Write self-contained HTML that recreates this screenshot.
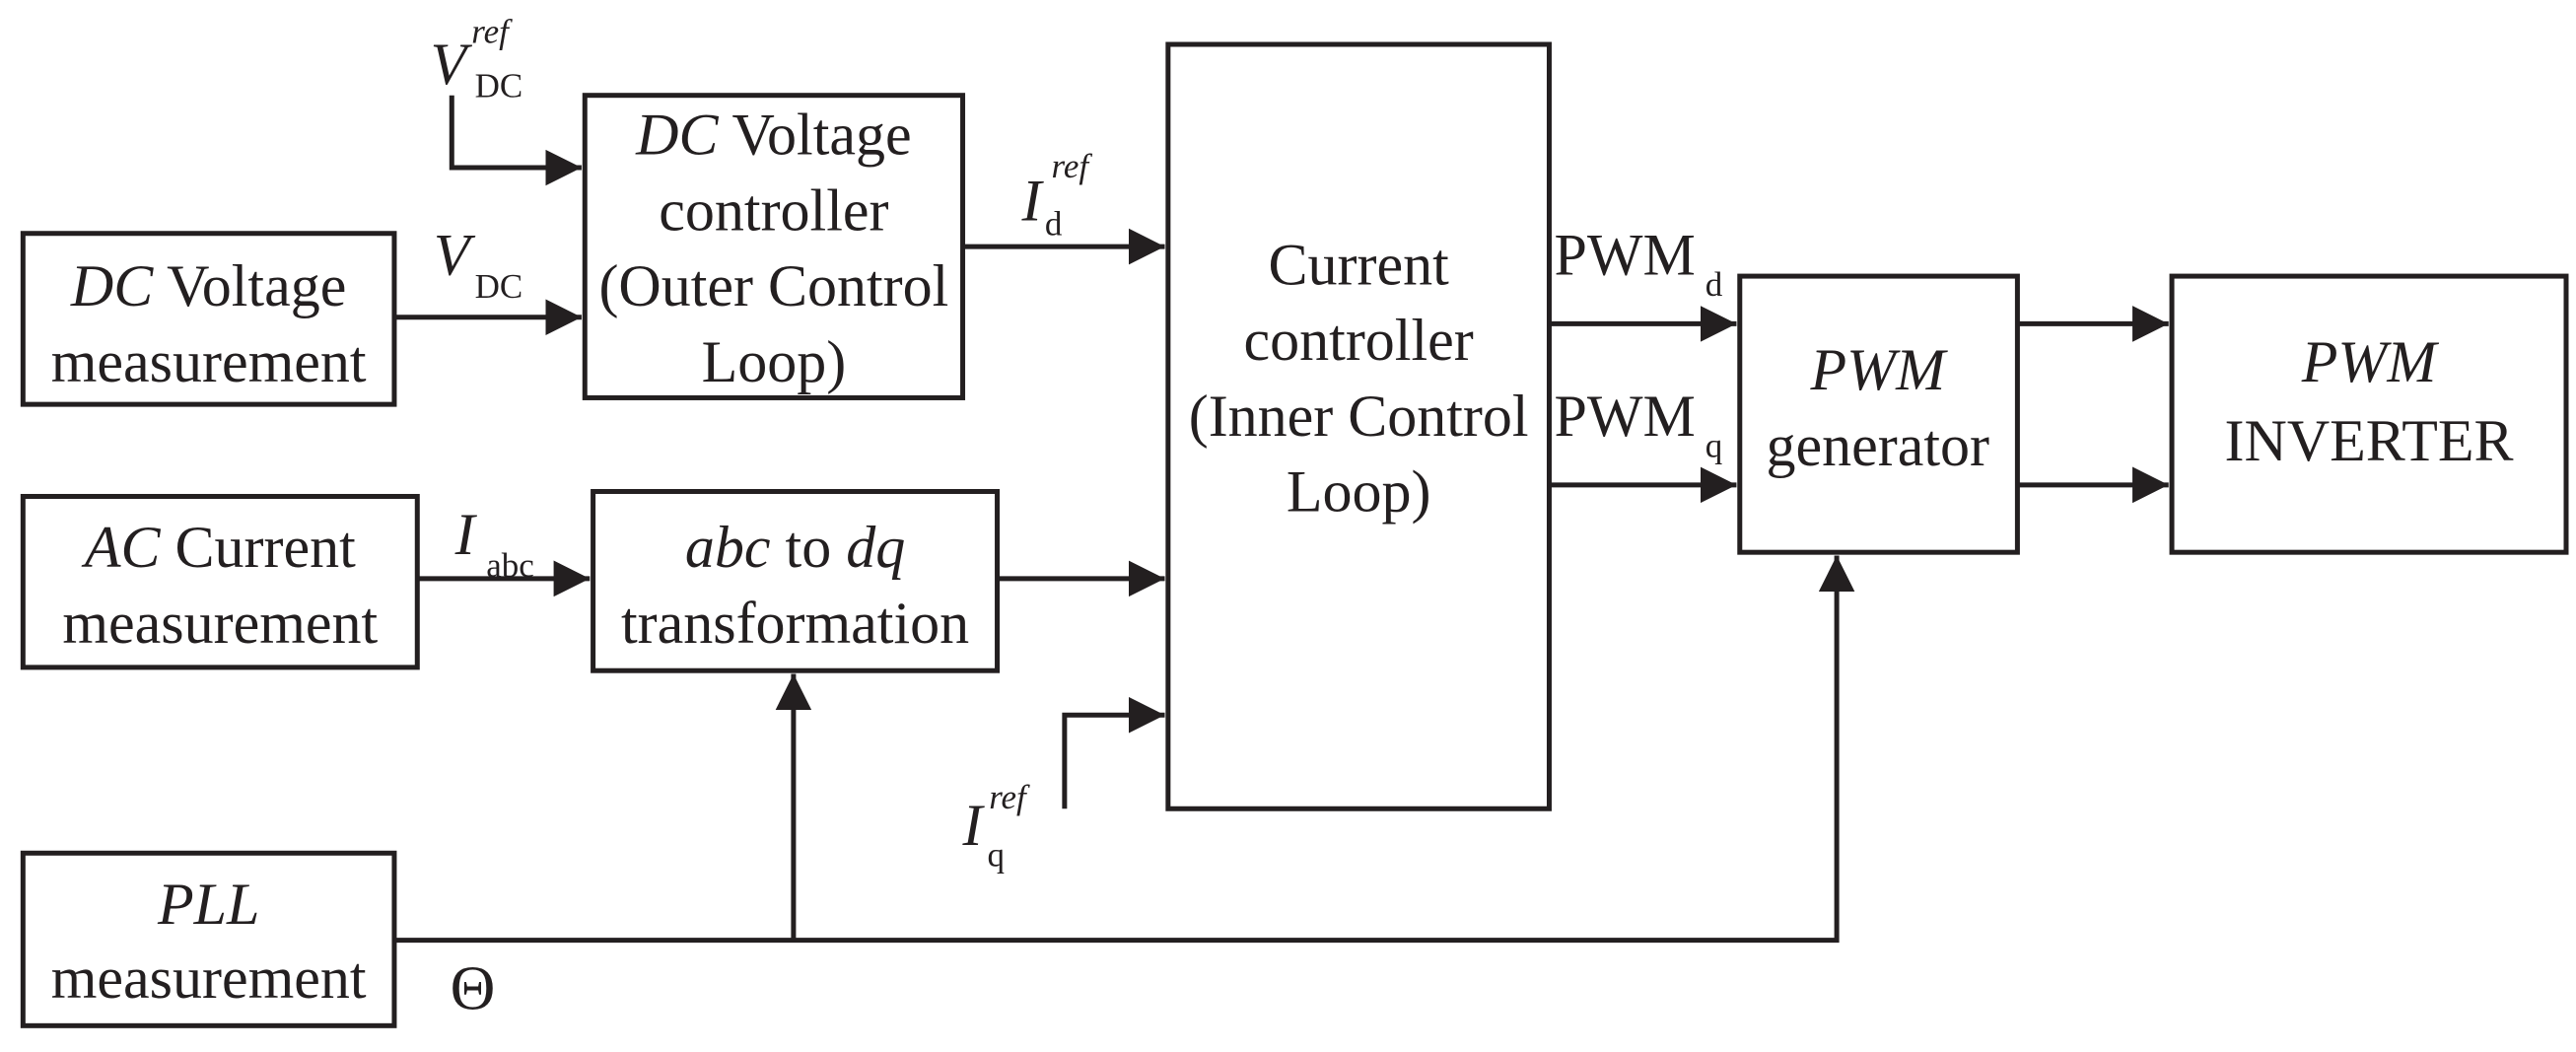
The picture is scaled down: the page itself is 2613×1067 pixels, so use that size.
<!DOCTYPE html>
<html><head><meta charset="utf-8"><style>
html,body{margin:0;padding:0;background:#fff;}
svg{display:block;}
text{font-family:"Liberation Serif",serif;fill:#231f20;}
</style></head><body>
<svg width="2613" height="1067" viewBox="0 0 1568 640" preserveAspectRatio="none" xmlns="http://www.w3.org/2000/svg">
<defs><marker id="b" viewBox="0 0 10 10" refX="10" refY="5" markerWidth="22" markerHeight="22" markerUnits="userSpaceOnUse" orient="auto"><path d="M0,0L10,5L0,10z" fill="#231f20"/></marker></defs>
<g fill="none" stroke="#231f20" stroke-width="3">
<rect x="14" y="142" width="226" height="104"/>
<rect x="356" y="58" width="230" height="184"/>
<rect x="711" y="27" width="232" height="465"/>
<rect x="1059" y="168" width="169" height="168"/>
<rect x="1322" y="168" width="240" height="168"/>
<rect x="14" y="302" width="240" height="104"/>
<rect x="361" y="299" width="246" height="109"/>
<rect x="14" y="519" width="226" height="105"/>
<path d="M275 58V102H354" marker-end="url(#b)"/>
<path d="M240 193H354" marker-end="url(#b)"/>
<path d="M586 150H709" marker-end="url(#b)"/>
<path d="M943 197H1057" marker-end="url(#b)"/>
<path d="M943 295H1057" marker-end="url(#b)"/>
<path d="M1228 197H1320" marker-end="url(#b)"/>
<path d="M1228 295H1320" marker-end="url(#b)"/>
<path d="M254 352H359" marker-end="url(#b)"/>
<path d="M607 352H709" marker-end="url(#b)"/>
<path d="M648 492V435H709" marker-end="url(#b)"/>
<path d="M240 572H1118V338" marker-end="url(#b)"/>
<path d="M483 572V410" marker-end="url(#b)"/>
</g>
<g font-size="36" text-anchor="middle">
<text x="127" y="186"><tspan font-style="italic">DC</tspan> Voltage</text>
<text x="127" y="232">measurement</text>
<text x="471" y="94"><tspan font-style="italic">DC</tspan> Voltage</text>
<text x="471" y="140">controller</text>
<text x="471" y="186">(Outer Control</text>
<text x="471" y="232">Loop)</text>
<text x="827" y="173">Current</text>
<text x="827" y="219">controller</text>
<text x="827" y="265">(Inner Control</text>
<text x="827" y="311">Loop)</text>
<text x="1143" y="237" font-style="italic">PWM</text>
<text x="1143" y="283">generator</text>
<text x="1442" y="232" font-style="italic">PWM</text>
<text x="1442" y="280">INVERTER</text>
<text x="134" y="345"><tspan font-style="italic">AC</tspan> Current</text>
<text x="134" y="391">measurement</text>
<text x="484" y="345"><tspan font-style="italic">abc</tspan> to <tspan font-style="italic">dq</tspan></text>
<text x="484" y="391">transformation</text>
<text x="127" y="562" font-style="italic">PLL</text>
<text x="127" y="607">measurement</text>
</g>
<g font-size="36">
<text x="262" y="51" font-style="italic">V</text><text x="287" y="26" font-size="21" font-style="italic">ref</text><text x="289" y="59" font-size="21">DC</text>
<text x="264" y="167" font-style="italic">V</text><text x="289" y="181" font-size="21">DC</text>
<text x="622" y="134" font-style="italic">I</text><text x="640" y="108" font-size="21" font-style="italic">ref</text><text x="636" y="143" font-size="21">d</text>
<text x="277" y="337" font-style="italic">I</text><text x="296" y="351" font-size="21">abc</text>
<text x="586" y="514" font-style="italic">I</text><text x="602" y="492" font-size="21" font-style="italic">ref</text><text x="601" y="527" font-size="21">q</text>
<text x="946" y="167">PWM</text><text x="1038" y="180" font-size="21">d</text>
<text x="946" y="265">PWM</text><text x="1038" y="278" font-size="21">q</text>
<text x="274" y="614" font-size="38">Θ</text>
</g>
</svg>
</body></html>
